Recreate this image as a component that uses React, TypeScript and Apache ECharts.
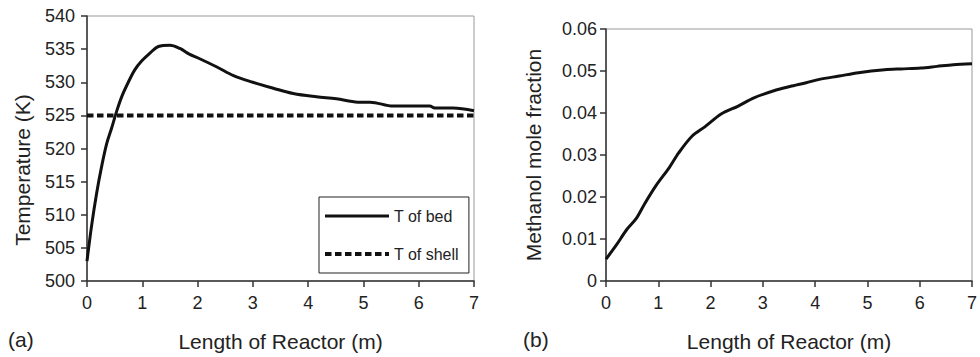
import React, { useEffect, useRef } from "react";
import * as echarts from "echarts";

const bedX = [0, 0.084, 0.175, 0.265, 0.355, 0.446, 0.536, 0.627, 0.747, 0.867, 0.988, 1.139, 1.29, 1.5, 1.68, 1.86, 2.0, 2.35, 2.65, 3.0, 3.37, 3.73, 4.15, 4.51, 4.9, 5.12, 5.54, 6.2, 6.29, 6.62, 7.0];
const bedT = [503, 508.4, 513.3, 517.3, 520.7, 523.1, 525.6, 527.8, 530.0, 531.9, 533.2, 534.4, 535.4, 535.6, 535.1, 534.2, 533.7, 532.3, 531.0, 530.0, 529.1, 528.3, 527.8, 527.5, 527.0, 527.0, 526.4, 526.4, 526.1, 526.1, 525.7];
const shellX = [0, 7];
const shellT = [525, 525];
const methX = [0, 0.206, 0.394, 0.58, 0.74, 0.956, 1.21, 1.39, 1.64, 1.89, 2.21, 2.52, 2.83, 3.21, 3.52, 3.83, 4.08, 4.46, 4.83, 5.33, 5.64, 6.02, 6.33, 6.64, 7.0];
const methY = [0.0052, 0.0087, 0.0122, 0.0149, 0.0184, 0.0227, 0.027, 0.0305, 0.0344, 0.0367, 0.0398, 0.0416, 0.0436, 0.0453, 0.0463, 0.0472, 0.048, 0.0488, 0.0496, 0.0503, 0.0505, 0.0507, 0.0511, 0.0515, 0.0517];
const seriesNames = ["T of bed", "T of shell"];
const xTitle = "Length of Reactor (m)";
const yTitleA = "Temperature (K)";
const yTitleB = "Methanol mole fraction";
const panelLabels = ["(a)", "(b)"];

const FONT = "Liberation Sans, Arial, sans-serif";
const TXT = "#222";
const AX = "#333";

export default function App() {
  const ref = useRef<HTMLDivElement>(null);
  useEffect(() => {
    if (!ref.current) return;
    const chart = echarts.init(ref.current, null, { renderer: "svg" });
    const zip = (xs: number[], ys: number[]) => xs.map((x, i) => [x, ys[i]]);
    const xAxisBase = (gridIndex: number) => ({
      type: "value" as const,
      gridIndex,
      min: 0,
      max: 7,
      interval: 1,
      name: xTitle,
      nameLocation: "middle" as const,
      nameGap: 50,
      nameTextStyle: { fontSize: 21, color: TXT, fontFamily: FONT },
      axisLine: { lineStyle: { color: AX, width: 1.5 } },
      axisTick: { show: true, length: 6, inside: false, lineStyle: { color: AX, width: 1.5 } },
      axisLabel: { fontSize: 18, color: TXT, fontFamily: FONT, margin: 13 },
      splitLine: { show: false },
    });
    chart.setOption({
      animation: false,
      textStyle: { fontFamily: FONT },
      grid: [
        { left: 87, top: 16, width: 387, height: 271, show: true, borderColor: "#999", borderWidth: 1 },
        { left: 606, top: 29, width: 374, height: 257, show: true, borderColor: "#999", borderWidth: 1 },
      ],
      xAxis: [xAxisBase(0), xAxisBase(1)],
      yAxis: [
        {
          type: "value",
          gridIndex: 0,
          min: 500,
          max: 540,
          interval: 5,
          axisLine: { show: true, lineStyle: { color: AX, width: 1.5 } },
          axisTick: { show: true, length: 6, lineStyle: { color: AX, width: 1.5 } },
          axisLabel: { fontSize: 18, color: TXT, fontFamily: FONT, margin: 12 },
          splitLine: { show: false },
        },
        {
          type: "value",
          gridIndex: 1,
          min: 0,
          max: 0.06,
          interval: 0.01,
          name: yTitleB,
          nameLocation: "middle",
          nameGap: 62,
          nameTextStyle: { fontSize: 21, color: TXT, fontFamily: FONT },
          axisLine: { show: true, lineStyle: { color: AX, width: 1.5 } },
          axisTick: { show: true, length: 6, lineStyle: { color: AX, width: 1.5 } },
          axisLabel: {
            fontSize: 18,
            color: TXT,
            fontFamily: FONT,
            margin: 9,
            formatter: (v: number) => (v === 0 ? "0" : v.toFixed(2)),
          },
          splitLine: { show: false },
        },
      ],
      legend: {
        orient: "vertical",
        left: 319,
        top: 197,
        width: 143,
        data: [
          { name: seriesNames[0], lineStyle: { color: "#111", width: 3 } },
          { name: seriesNames[1], lineStyle: { color: "#111", width: 4, type: [6.5, 3.5] } },
        ],
        borderColor: "#222",
        borderWidth: 1,
        padding: [11, 10, 11, 4],
        itemWidth: 64,
        itemHeight: 16,
        itemGap: 22,
        itemStyle: { opacity: 0, borderWidth: 0 },
        textStyle: { fontSize: 16, color: TXT, fontFamily: FONT },
        borderRadius: 0,
      },
      series: [
        {
          name: seriesNames[0],
          type: "line",
          xAxisIndex: 0,
          yAxisIndex: 0,
          data: zip(bedX, bedT),
          symbol: "none",
          smooth: 0.35,
          color: "#111",
          lineStyle: { color: "#111", width: 3 },
        },
        {
          name: seriesNames[1],
          type: "line",
          xAxisIndex: 0,
          yAxisIndex: 0,
          data: zip(shellX, shellT),
          symbol: "none",
          color: "#111",
          lineStyle: { color: "#111", width: 4, type: [6.5, 3.5] },
        },
        {
          name: "Methanol",
          type: "line",
          xAxisIndex: 1,
          yAxisIndex: 1,
          data: zip(methX, methY),
          symbol: "none",
          smooth: 0.3,
          color: "#111",
          lineStyle: { color: "#111", width: 3 },
        },
      ],
      graphic: [
        {
          type: "text",
          x: 22,
          y: 170,
          rotation: Math.PI / 2,
          style: { text: yTitleA, fontSize: 21, fill: TXT, fontFamily: FONT, align: "center", verticalAlign: "middle" },
        },
        { type: "text", left: 8, top: 329, style: { text: panelLabels[0], fontSize: 21, fill: TXT, fontFamily: FONT } },
        { type: "text", left: 523, top: 329, style: { text: panelLabels[1], fontSize: 21, fill: TXT, fontFamily: FONT } },
      ],
    });
    return () => chart.dispose();
  }, []);
  return (
    <div
      ref={ref}
      style={{ position: "absolute", left: 0, top: 0, width: 980, height: 357, background: "#fff" }}
    />
  );
}
